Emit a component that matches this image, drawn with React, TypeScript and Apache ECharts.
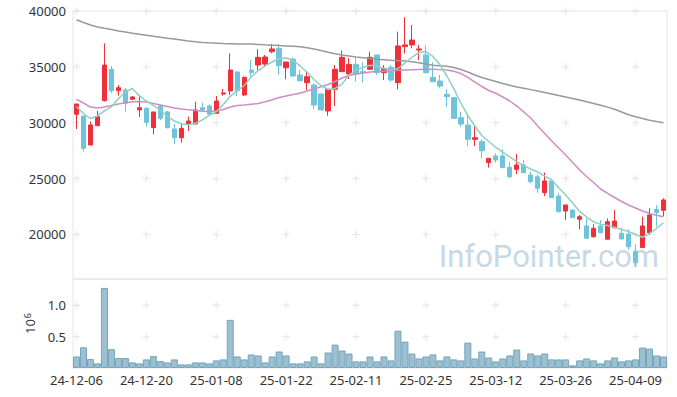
import React, { useEffect, useRef } from 'react';
import * as echarts from 'echarts';

const dates = [
  '24-12-06','24-12-09','24-12-10','24-12-11','24-12-12','24-12-13','24-12-16','24-12-17','24-12-18','24-12-19',
  '24-12-20','24-12-23','24-12-24','24-12-26','24-12-27','24-12-30','25-01-02','25-01-03','25-01-06','25-01-07',
  '25-01-08','25-01-09','25-01-10','25-01-13','25-01-14','25-01-15','25-01-16','25-01-17','25-01-20','25-01-21',
  '25-01-22','25-01-23','25-01-24','25-01-31','25-02-03','25-02-04','25-02-05','25-02-06','25-02-07','25-02-10',
  '25-02-11','25-02-12','25-02-13','25-02-14','25-02-17','25-02-18','25-02-19','25-02-20','25-02-21','25-02-24',
  '25-02-25','25-02-26','25-02-27','25-02-28','25-03-04','25-03-05','25-03-06','25-03-07','25-03-10','25-03-11',
  '25-03-12','25-03-13','25-03-14','25-03-17','25-03-18','25-03-19','25-03-20','25-03-21','25-03-24','25-03-25',
  '25-03-26','25-03-27','25-03-28','25-03-31','25-04-01','25-04-02','25-04-03','25-04-04','25-04-07','25-04-08',
  '25-04-09','25-04-10','25-04-11','25-04-14','25-04-15'
];

const opens = [
  30750,30600,28000,29730,31970,34780,32860,32930,32090,31140,
  31290,29550,31490,30960,29430,28650,29860,29880,31340,31490,
  30840,32570,32840,34540,32480,34720,35160,35250,36360,36660,
  34920,35700,34270,33580,33370,32570,31050,32990,34570,34360,
  35220,34570,34780,36060,34480,34960,33580,36810,36960,36510,
  36060,34060,33730,32540,32240,30450,29790,28510,28300,26420,
  27020,27020,26000,25820,26210,25310,25160,23730,24780,23430,
  22090,22180,21350,20750,19790,20750,19560,20590,20090,20030,
  18450,18810,20150,22240,22150
];
const closes = [
  31670,27700,29790,30540,35160,32860,33130,31740,32300,31340,
  30030,30960,30390,29550,28650,29490,30150,31140,31140,30750,
  31940,32660,34720,32860,34060,34480,35850,35880,36600,35100,
  35430,34180,33760,34120,31580,31140,32990,34780,35850,35220,
  34360,34480,35850,34480,34870,33820,36870,36960,37400,36600,
  34480,33670,33280,32330,30390,29880,28510,28650,27490,26810,
  26660,25970,25160,26210,25520,24710,24120,24780,23280,22030,
  22630,21490,21580,19650,20540,20150,21130,21190,19580,18890,
  17460,20750,21730,21940,23080
];
const lows = [
  29430,27400,28000,29700,31900,32630,32420,30980,32030,30510,
  29640,28950,30240,29490,28090,28210,29250,29850,30980,30690,
  30820,32420,32480,32390,32390,34120,34720,35080,36210,34270,
  33880,34120,33670,32930,31200,31140,30620,31490,34540,33910,
  33670,33610,34750,34270,33820,33670,32990,36210,36660,35610,
  34420,33670,33080,31380,30390,29640,27910,27910,26810,25970,
  26420,25970,25020,25390,25480,24570,23730,23430,23280,21940,
  21280,21490,20450,19650,19700,20090,19560,20540,19580,18600,
  17100,18810,19940,20680,21640
];
const highs = [
  31700,30600,30090,31050,37100,35080,33370,33090,32390,32480,
  31380,30960,31640,31050,29880,29880,30540,31880,31790,31640,
  32390,33020,36210,34630,34120,35610,36570,36060,37050,37050,
  35430,35850,34720,34630,33530,32570,32990,35160,36450,35780,
  35780,35400,36360,36060,35160,35160,38150,39440,38750,36960,
  36960,35400,34270,32990,32240,30980,30840,29790,28510,26810,
  27260,27620,26510,27200,26660,25610,25380,25520,24780,23730,
  22630,22180,21730,21430,20900,21280,21430,22180,20590,20450,
  19130,21580,22330,22630,23230
];

const volumes = [
  184000,331000,142000,74000,1278000,300000,158000,158000,89000,74000,
  137000,189000,110000,89000,137000,58000,58000,89000,89000,74000,
  121000,137000,768000,184000,137000,216000,200000,89000,184000,263000,
  200000,74000,74000,105000,184000,74000,247000,373000,279000,231000,
  105000,105000,184000,105000,184000,121000,594000,421000,231000,152000,
  184000,216000,121000,184000,137000,121000,405000,152000,263000,168000,
  105000,152000,200000,294000,121000,231000,200000,231000,137000,137000,
  137000,42000,121000,152000,121000,74000,121000,168000,105000,121000,
  137000,326000,310000,200000,184000
];

const ma5 = [
  31450,30820,30370,30600,31050,31420,32160,32750,33060,32390,
  31940,31540,31090,30550,30150,29900,29810,29940,30240,30660,
  30980,31630,32360,32840,33330,34090,34670,35090,35430,35750,
  35790,35590,35080,34510,33840,33330,32970,33060,33460,34270,
  34720,34940,35140,35080,34850,34720,34850,35340,35860,36280,
  36370,35930,35210,34180,33020,31760,30640,29700,28850,28310,
  27780,27370,26930,26500,26150,25850,25580,25220,24870,24170,
  23520,22810,22050,21550,21110,20900,20790,20630,20430,20250,
  19990,19740,20080,20520,21040
];
const ma20 = [
  32080,31760,31400,31310,31400,31540,31670,31790,31870,31900,
  31850,31720,31580,31450,31310,31220,31150,31090,31020,31000,
  31050,31180,31400,31540,31580,31650,31720,31870,32060,32250,
  32390,32520,32640,32840,33020,33210,33420,33690,34000,34220,
  34360,34450,34540,34590,34630,34660,34690,34720,34740,34760,
  34780,34780,34750,34720,34610,34400,34050,33640,33240,32880,
  32640,32300,31940,31490,30960,30420,29700,29030,28360,27730,
  27110,26430,25760,25180,24640,24060,23660,23300,22940,22630,
  22360,22090,21870,21710,21580
];
const ma60 = [
  39210,38970,38750,38570,38450,38340,38210,38120,38010,37920,
  37830,37730,37650,37560,37490,37400,37310,37240,37190,37150,
  37120,37090,37070,37050,37050,37040,37010,36970,36940,36900,
  36870,36840,36790,36710,36600,36460,36310,36170,36060,35970,
  35880,35810,35740,35670,35630,35590,35570,35520,35450,35360,
  35250,35150,35100,35060,34940,34760,34540,34270,34050,33870,
  33680,33510,33350,33190,33080,32960,32840,32710,32570,32430,
  32300,32160,32030,31870,31720,31560,31390,31200,30960,30710,
  30530,30370,30220,30100,30000
];

const priceTicks = [20000, 25000, 30000, 35000, 40000];
const volumeTicks = [500000, 1000000];
const labelEvery = 10;

const FONT = 'Noto Sans';
const plus = 'path://M4,0H6V4H10V6H6V10H4V6H0V4H4Z';

export default function App() {
  const ref = useRef<HTMLDivElement>(null);
  useEffect(() => {
    document.body.style.margin = '0';
    if (!ref.current) return;
    const chart = echarts.init(ref.current, undefined, { renderer: 'svg' });
    const ohlc = dates.map((_, i) => [opens[i], closes[i], lows[i], highs[i]]);
    const tickIdx = dates.map((_, i) => i).filter((i) => i % labelEvery === 0);
    const priceCross: number[][] = [];
    tickIdx.forEach((i) => priceTicks.forEach((v) => priceCross.push([i, v])));
    const volCross: number[][] = [];
    tickIdx.forEach((i) => volumeTicks.forEach((v) => volCross.push([i, v])));

    chart.setOption({
      animation: false,
      backgroundColor: '#fff',
      grid: [
        { left: 73, right: 10, top: 11, height: 268, show: true, borderColor: '#e4e4e4', borderWidth: 1 },
        { left: 73, right: 10, top: 279, height: 89, show: true, borderColor: '#e4e4e4', borderWidth: 1 },
      ],
      graphic: [
        {
          type: 'text',
          z: 0,
          silent: true,
          style: {
            x: 659,
            y: 256,
            text: 'InfoPointer.com',
            textAlign: 'right',
            textVerticalAlign: 'middle',
            fontSize: 31,
            fontFamily: 'Roboto',
            fill: '#c6d9e5',
          },
        },
      ],
      xAxis: [
        {
          type: 'category', gridIndex: 0, data: dates, boundaryGap: true,
          axisLine: { show: false }, axisTick: { show: false }, axisLabel: { show: false }, splitLine: { show: false },
        },
        {
          type: 'category', gridIndex: 1, data: dates, boundaryGap: true,
          axisLine: { show: false }, axisTick: { show: false }, splitLine: { show: false },
          axisLabel: {
            interval: (i: number) => i % labelEvery === 0,
            color: '#333', fontSize: 13, fontFamily: FONT, margin: 5,
          },
        },
      ],
      yAxis: [
        {
          type: 'value', gridIndex: 0, min: 16000, max: 40000, splitNumber: 5,
          axisLine: { show: false }, axisTick: { show: false }, splitLine: { show: false },
          axisLabel: {
            showMinLabel: false, color: '#333', fontSize: 13, fontFamily: FONT, margin: 7,
            formatter: (v: number) => String(v),
          },
        },
        {
          type: 'value', gridIndex: 1, min: 0, max: 1420000, interval: 500000,
          axisLine: { show: false }, axisTick: { show: false }, splitLine: { show: false },
          axisLabel: {
            showMinLabel: false, showMaxLabel: false, color: '#333', fontSize: 13, fontFamily: FONT, margin: 7,
            formatter: (v: number) => (v / 1e6).toFixed(1),
          },
          name: '{a|10}{b|6}',
          nameLocation: 'middle',
          nameRotate: 90,
          nameGap: 34,
          nameTextStyle: {
            color: '#333',
            rich: {
              a: { fontSize: 13, fontFamily: FONT, color: '#333' },
              b: { fontSize: 9, fontFamily: FONT, color: '#333', verticalAlign: 'top', padding: [0, 0, 6, 1] },
            },
          },
        },
      ],
      series: [
        {
          type: 'scatter', xAxisIndex: 0, yAxisIndex: 0, data: priceCross, symbol: plus, symbolSize: 7,
          itemStyle: { color: '#e4e4e4' }, silent: true, z: 1,
        },
        {
          type: 'scatter', xAxisIndex: 1, yAxisIndex: 1, data: volCross, symbol: plus, symbolSize: 7,
          itemStyle: { color: '#e4e4e4' }, silent: true, z: 1,
        },
        {
          type: 'candlestick', xAxisIndex: 0, yAxisIndex: 0, data: ohlc, barWidth: '70%',
          itemStyle: { color: '#ef3038', color0: '#6ec4da', borderColor: '#ef3038', borderColor0: '#6ec4da', borderWidth: 1 },
          z: 3,
        },
        {
          type: 'line', xAxisIndex: 0, yAxisIndex: 0, data: ma60, symbol: 'none', smooth: false,
          lineStyle: { color: '#999999', width: 1.5 }, z: 4,
        },
        {
          type: 'line', xAxisIndex: 0, yAxisIndex: 0, data: ma20, symbol: 'none', smooth: false,
          lineStyle: { color: '#cf8dc6', width: 1.5 }, z: 4,
        },
        {
          type: 'line', xAxisIndex: 0, yAxisIndex: 0, data: ma5, symbol: 'none', smooth: false,
          lineStyle: { color: '#8fd0c3', width: 1.5 }, z: 4,
        },
        {
          type: 'bar', xAxisIndex: 1, yAxisIndex: 1, data: volumes, barCategoryGap: '0%',
          itemStyle: { color: '#9bc0d2', borderColor: '#76a3bb', borderWidth: 1 }, z: 3,
        },
      ],
    });
    return () => chart.dispose();
  }, []);
  return <div ref={ref} style={{ width: 677, height: 397 }} />;
}
